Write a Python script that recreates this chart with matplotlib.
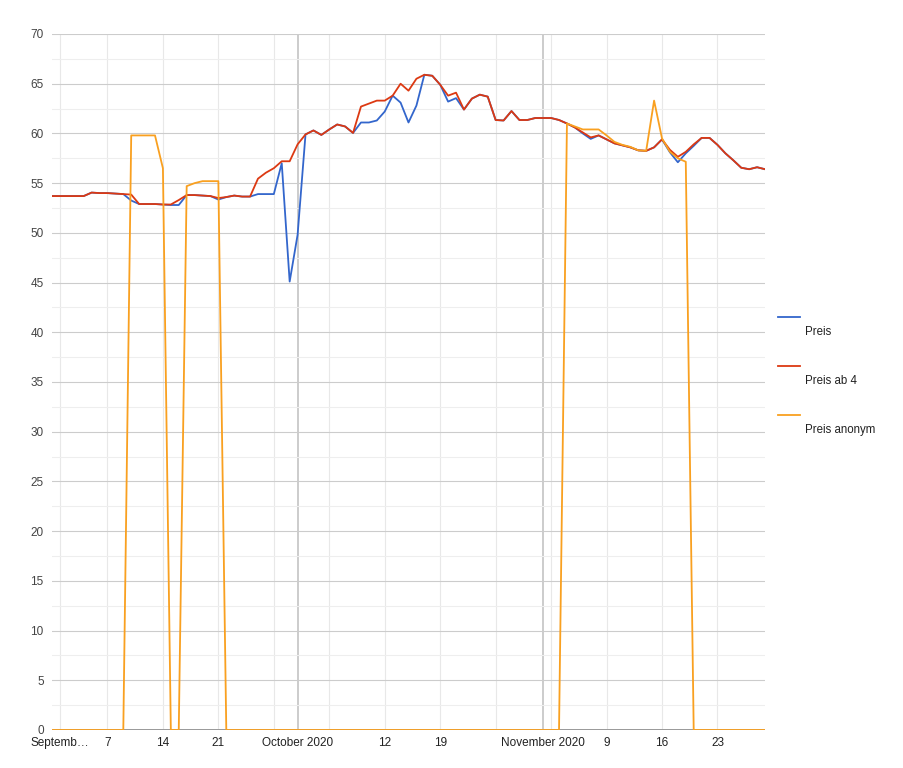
import matplotlib
matplotlib.use("Agg")
import matplotlib.pyplot as plt
from matplotlib.lines import Line2D
import numpy as np
import pandas as pd

# daily values, 31 Aug 2020 .. 29 Nov 2020
dates = pd.date_range("2020-08-31", "2020-11-29", freq="D")

preis = [
    53.7, 53.7, 53.7, 53.7, 53.7, 54.05, 54.0, 54.0, 53.95, 53.9,
    53.25, 52.9, 52.9, 52.9, 52.85, 52.8, 52.8, 53.8, 53.8, 53.75,
    53.7, 53.35, 53.6, 53.75, 53.65, 53.65, 53.9, 53.9, 53.9, 57.0,
    45.1, 49.8, 59.9, 60.3, 59.85, 60.4, 60.9, 60.7, 60.05, 61.1,
    61.1, 61.3, 62.2, 63.8, 63.1, 61.1, 62.8, 65.9, 65.8, 64.9,
    63.2, 63.55, 62.4, 63.5, 63.9, 63.7, 61.35, 61.3, 62.25, 61.35,
    61.35, 61.55, 61.55, 61.55, 61.35, 61.0, 60.6, 60.0, 59.45, 59.8,
    59.4, 59.0, 58.8, 58.6, 58.3, 58.25, 58.6, 59.4, 58.1, 57.1,
    58.0, 58.75, 59.55, 59.55, 58.85, 58.0, 57.3, 56.55, 56.4, 56.6,
    56.4,
]

preis_ab_4 = [
    53.7, 53.7, 53.7, 53.7, 53.7, 54.05, 54.0, 54.0, 53.95, 53.9,
    53.85, 52.9, 52.9, 52.9, 52.85, 52.85, 53.3, 53.8, 53.8, 53.75,
    53.7, 53.5, 53.6, 53.75, 53.65, 53.65, 55.45, 56.05, 56.5, 57.2,
    57.2, 58.9, 59.9, 60.3, 59.85, 60.4, 60.9, 60.7, 60.05, 62.7,
    63.0, 63.3, 63.3, 63.8, 65.0, 64.3, 65.5, 65.9, 65.8, 64.9,
    63.8, 64.1, 62.4, 63.5, 63.9, 63.7, 61.35, 61.3, 62.25, 61.35,
    61.35, 61.55, 61.55, 61.55, 61.35, 61.0, 60.6, 60.1, 59.6, 59.8,
    59.4, 59.0, 58.8, 58.6, 58.3, 58.25, 58.6, 59.4, 58.35, 57.65,
    58.15, 58.9, 59.55, 59.55, 58.85, 58.0, 57.3, 56.55, 56.4, 56.6,
    56.4,
]

preis_anonym = [
    0, 0, 0, 0, 0, 0, 0, 0, 0, 0,
    59.8, 59.8, 59.8, 59.8, 56.5, 0, 0, 54.7, 55.0, 55.2,
    55.2, 55.2, 0, 0, 0, 0, 0, 0, 0, 0,
    0, 0, 0, 0, 0, 0, 0, 0, 0, 0,
    0, 0, 0, 0, 0, 0, 0, 0, 0, 0,
    0, 0, 0, 0, 0, 0, 0, 0, 0, 0,
    0, 0, 0, 0, 0, 61.0, 60.7, 60.4, 60.4, 60.4,
    59.8, 59.15, 58.85, 58.65, 58.3, 58.25, 63.3, 59.5, 58.15, 57.5,
    57.15, 0, 0, 0, 0, 0, 0, 0, 0, 0,
    0,
]

series = [("Preis", preis, "#3366cc"),
          ("Preis ab 4", preis_ab_4, "#dc3912"),
          ("Preis anonym", preis_anonym, "#f9a020")]

plt.rcParams["font.family"] = ["Liberation Sans", "DejaVu Sans"]

fig = plt.figure(figsize=(9.04, 7.68), dpi=100)
ax = fig.add_axes([52 / 904, 38 / 768, 713 / 904, 696 / 768])

# grid: month starts darker, mondays lighter, y every 5 with minor 2.5
for d in pd.date_range("2020-09-07", "2020-11-29", freq="7D"):
    ax.axvline(d, color="#e8e8e8", lw=0.8, zorder=0)
ax.axvline(pd.Timestamp("2020-09-01"), color="#e8e8e8", lw=0.8, zorder=0)
for d in ["2020-10-01", "2020-11-01"]:
    ax.axvline(pd.Timestamp(d), color="#cccccc", lw=1.4, zorder=0)
ax.set_yticks(np.arange(0, 71, 5))
ax.set_yticks(np.arange(2.5, 70, 5), minor=True)
ax.grid(axis="y", which="major", color="#cccccc", lw=0.8)
ax.grid(axis="y", which="minor", color="#eeeeee", lw=0.8)
ax.set_axisbelow(True)
ax.axhline(0, color="#999999", lw=1.4, zorder=1)

for name, vals, col in series:
    ax.plot(dates, vals, color=col, lw=1.3, label=name, zorder=2)

ax.set_ylim(0, 70)
ax.set_xlim(dates[0], dates[-1])

tick_dates = pd.to_datetime(["2020-09-01", "2020-09-07", "2020-09-14", "2020-09-21",
                             "2020-10-01", "2020-10-12", "2020-10-19",
                             "2020-11-01", "2020-11-09", "2020-11-16", "2020-11-23"])
tick_labels = ["Septemb…", "7", "14", "21", "October 2020", "12", "19",
               "November 2020", "9", "16", "23"]
ax.set_xticks(tick_dates)
ax.set_xticklabels(tick_labels)
ax.tick_params(axis="x", length=0, pad=5, labelsize=8.5, labelcolor="#222222")
ax.tick_params(axis="y", which="both", length=0, pad=6, labelsize=8.5, labelcolor="#444444")
for s in ax.spines.values():
    s.set_visible(False)

# legend on the right, sample line above the text
for k, (name, vals, col) in enumerate(series):
    ly = 1 - (317 + 49 * k) / 768
    fig.add_artist(Line2D([778 / 904, 800 / 904], [ly, ly], color=col, lw=1.3,
                          transform=fig.transFigure))
    fig.text(805 / 904, ly - 15 / 768, name, fontsize=8.3, color="#222222",
             va="center", ha="left")

plt.savefig("out.png", dpi=100)
